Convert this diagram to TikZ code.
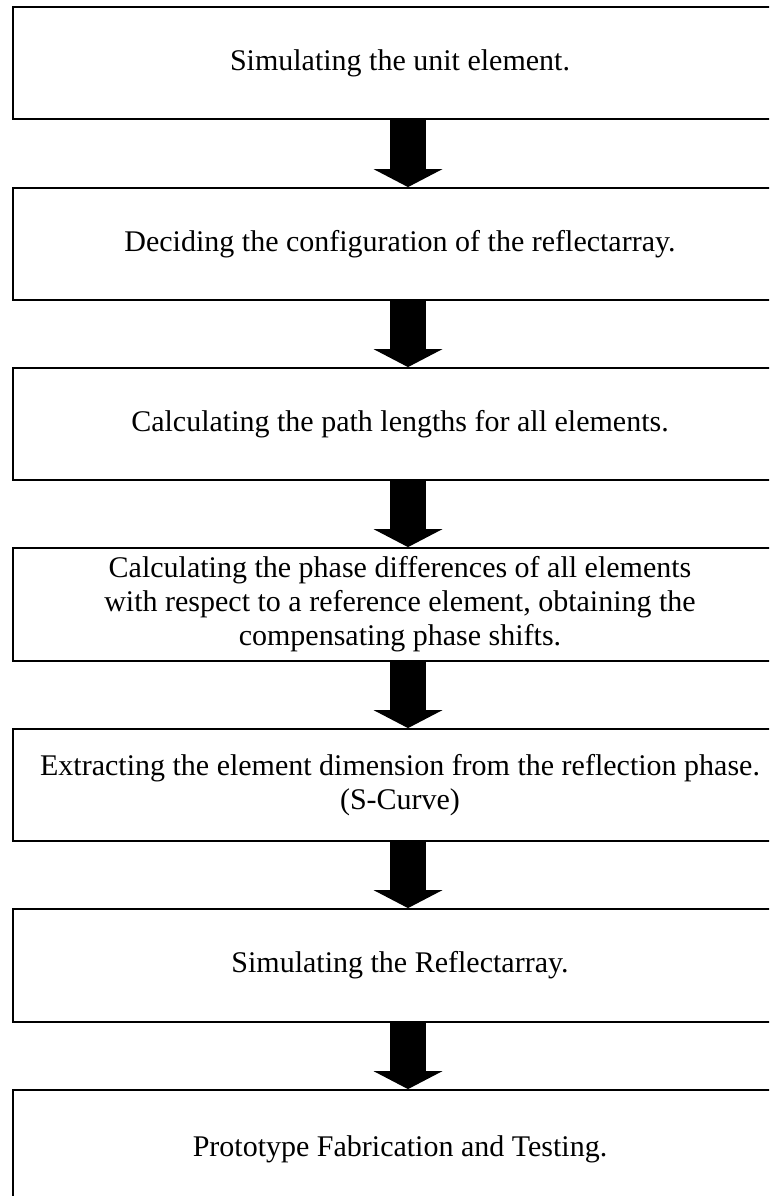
\documentclass[tikz,border=0pt]{standalone}
\usepackage{fontspec}
\setmainfont{Liberation Serif}
\usetikzlibrary{arrows.meta}
\begin{document}
\begin{tikzpicture}[x=1pt,y=1pt]
\tikzset{block/.style={
rectangle,draw,black,line width=1.8pt,
minimum width=774pt,
minimum height=112pt,
font=\fontsize{30}{34}\selectfont,
align=center}}

\tikzset{blockArrow/.style={
line width=36pt,black,
-{Triangle[length=18pt,width=69pt,line width=0pt]}}}

\useasboundingbox (0,0) rectangle (769,-1196);
\clip (0,0) rectangle (769,-1196);

\draw
(400,-63)
node[block,name=uUnitSim]
{Simulating the unit element.};

\draw
(400,-244)
node[block,name=uConfig]
{Deciding the configuration of the reflectarray.};

\draw
(400,-424)
node[block,name=uPathLen]
{Calculating the path lengths for all elements.};

\draw
(400,-604.5)
node[block,minimum height=113pt,name=uPhaseDiff]
{Calculating the phase differences of all elements\\
with respect to a reference element, obtaining the\\
compensating phase shifts.};

\draw
(400,-785)
node[block,name=uSCurve]
{Extracting the element dimension from the reflection phase.\\
(S-Curve)};

\draw
(400,-965.5)
node[block,minimum height=113pt,name=uArraySim]
{Simulating the Reflectarray.};

\draw
(400,-1149)
node[block,minimum height=118pt,name=uProto]
{Prototype Fabrication and Testing.};

% block arrows between the steps
\draw[blockArrow] ([xshift=8pt]uUnitSim.south) -- ([xshift=8pt]uConfig.north);
\draw[blockArrow] ([xshift=8pt]uConfig.south) -- ([xshift=8pt]uPathLen.north);
\draw[blockArrow] ([xshift=8pt]uPathLen.south) -- ([xshift=8pt]uPhaseDiff.north);
\draw[blockArrow] ([xshift=8pt]uPhaseDiff.south) -- ([xshift=8pt]uSCurve.north);
\draw[blockArrow] ([xshift=8pt]uSCurve.south) -- ([xshift=8pt]uArraySim.north);
\draw[blockArrow] ([xshift=8pt]uArraySim.south) -- ([xshift=8pt]uProto.north);

\end{tikzpicture}
\end{document}
